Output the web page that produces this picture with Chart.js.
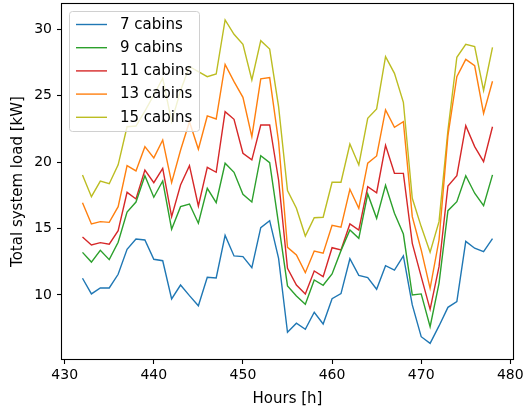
<!DOCTYPE html>
<html>
<head>
<meta charset="utf-8">
<script src="https://cdn.jsdelivr.net/npm/chart.js@4.4.1/dist/chart.umd.min.js"></script>
<style>
  html, body { margin: 0; padding: 0; background: #fff; }
  #wrap { width: 527px; height: 411px; }
</style>
</head>
<body>
<div id="wrap"><canvas id="c" width="527" height="411"></canvas></div>
<script>
const hours = [432, 433, 434, 435, 436, 437, 438, 439, 440, 441,
               442, 443, 444, 445, 446, 447, 448, 449, 450, 451,
               452, 453, 454, 455, 456, 457, 458, 459, 460, 461,
               462, 463, 464, 465, 466, 467, 468, 469, 470, 471,
               472, 473, 474, 475, 476, 477, 478];

const cabins7 = [11.26, 10.08, 10.53, 10.53, 11.56, 13.44, 14.22, 14.14, 12.69, 12.58,
                 9.70, 10.75, 9.95, 9.19, 11.33, 11.28, 14.49, 12.94, 12.89, 12.06,
                 15.07, 15.60, 12.76, 7.19, 7.87, 7.42, 8.70, 7.82, 9.72, 10.10,
                 12.73, 11.48, 11.31, 10.43, 12.21, 11.88, 12.94, 9.25, 6.86, 6.36,
                 7.67, 9.07, 9.50, 14.04, 13.52, 13.26, 14.24];

const cabins9 = [13.21, 12.48, 13.37, 12.66, 13.97, 16.25, 17.00, 18.98, 17.36, 18.58,
                 14.95, 16.65, 16.85, 15.40, 18.03, 16.95, 19.92, 19.24, 17.58, 17.00,
                 20.49, 19.96, 15.35, 10.68, 9.92, 9.30, 11.13, 10.73, 11.58, 13.34,
                 14.89, 14.27, 17.61, 15.77, 18.26, 16.15, 14.59, 10.00, 10.08, 7.61,
                 10.88, 16.35, 17.03, 18.98, 17.66, 16.73, 19.04];

const cabins11 = [14.37, 13.77, 13.94, 13.82, 14.84, 17.73, 17.23, 19.41, 18.46, 19.54,
                  15.90, 18.28, 19.74, 16.70, 19.61, 19.24, 23.80, 23.23, 20.67, 20.17,
                  22.80, 22.80, 18.66, 12.01, 10.75, 10.08, 11.81, 11.38, 13.56, 13.39,
                  15.35, 14.89, 18.15, 17.70, 21.27, 19.16, 19.16, 13.89, 11.38, 8.92,
                  12.13, 18.21, 18.98, 22.75, 21.17, 20.04, 22.67];

const cabins13 = [16.95, 15.35, 15.52, 15.47, 16.65, 19.74, 19.34, 21.17, 20.32, 21.67,
                  18.46, 20.90, 23.05, 20.97, 23.48, 23.25, 27.36, 26.06, 24.88, 21.92,
                  26.27, 26.37, 21.55, 13.59, 13.01, 11.68, 13.31, 13.14, 15.25, 15.10,
                  17.96, 16.53, 19.92, 20.47, 23.93, 22.63, 23.05, 15.90, 13.39, 10.50,
                  14.14, 22.00, 26.44, 27.74, 27.26, 23.67, 26.09];

const cabins15 = [19.04, 17.40, 18.58, 18.38, 19.80, 22.67, 22.72, 23.84, 25.06, 26.32,
                  23.05, 25.40, 27.19, 26.82, 26.44, 26.64, 30.71, 29.63, 28.87, 26.19,
                  29.15, 28.52, 24.18, 17.86, 16.53, 14.44, 15.82, 15.85, 18.49, 18.49,
                  21.37, 19.79, 23.30, 24.01, 27.95, 26.69, 24.51, 17.28, 15.15, 13.22,
                  15.52, 22.40, 27.90, 28.87, 28.70, 25.40, 28.65];

const seriesLabels = ['7 cabins', '9 cabins', '11 cabins', '13 cabins', '15 cabins'];
const seriesValues = [cabins7, cabins9, cabins11, cabins13, cabins15];
const seriesColors = ['#1f77b4', '#2ca02c', '#d62728', '#ff7f0e', '#bcbd22'];

const xTicks = [430, 440, 450, 460, 470, 480];
const yTicks = [10, 15, 20, 25, 30];

const FONT = 'DejaVu Sans';

const datasets = seriesValues.map((vals, i) => ({
  label: seriesLabels[i],
  data: hours.map((h, j) => ({ x: h, y: vals[j] })),
  borderColor: seriesColors[i],
  backgroundColor: seriesColors[i],
  borderWidth: 1.4,
  pointRadius: 0,
  tension: 0,
  fill: false
}));

const framePlugin = {
  id: 'frame',
  afterDatasetsDraw(chart) {
    const { ctx, chartArea: a } = chart;
    ctx.save();
    ctx.strokeStyle = '#000';
    ctx.lineWidth = 1.1;
    ctx.strokeRect(a.left - 0.5, a.top - 0.5, a.right - a.left + 1, a.bottom - a.top + 1);
    ctx.restore();
  }
};

const legendPlugin = {
  id: 'innerLegend',
  afterDraw(chart) {
    const { ctx } = chart;
    const bx = 69.5, by = 11.5, bw = 130, bh = 120, r = 3;
    ctx.save();
    ctx.beginPath();
    ctx.moveTo(bx + r, by);
    ctx.lineTo(bx + bw - r, by);
    ctx.quadraticCurveTo(bx + bw, by, bx + bw, by + r);
    ctx.lineTo(bx + bw, by + bh - r);
    ctx.quadraticCurveTo(bx + bw, by + bh, bx + bw - r, by + bh);
    ctx.lineTo(bx + r, by + bh);
    ctx.quadraticCurveTo(bx, by + bh, bx, by + bh - r);
    ctx.lineTo(bx, by + r);
    ctx.quadraticCurveTo(bx, by, bx + r, by);
    ctx.closePath();
    ctx.fillStyle = 'rgba(255,255,255,0.8)';
    ctx.fill();
    ctx.strokeStyle = '#d0d0d0';
    ctx.lineWidth = 1;
    ctx.stroke();
    ctx.font = '15px "' + FONT + '"';
    ctx.textBaseline = 'middle';
    ctx.textAlign = 'left';
    chart.data.datasets.forEach((ds, i) => {
      const y = 24.5 + i * 23.2;
      ctx.beginPath();
      ctx.strokeStyle = ds.borderColor;
      ctx.lineWidth = ds.borderWidth;
      ctx.moveTo(76, y);
      ctx.lineTo(107, y);
      ctx.stroke();
      ctx.fillStyle = '#000';
      ctx.fillText(ds.label, 120, y + 0.5);
    });
    ctx.restore();
  }
};

function noPad(s) {
  s.paddingTop = 0; s.paddingBottom = 0; s.paddingLeft = 0; s.paddingRight = 0;
}

new Chart(document.getElementById('c'), {
  type: 'line',
  data: { datasets },
  options: {
    responsive: false,
    animation: false,
    events: [],
    layout: { padding: { left: 0, right: 14, top: 4, bottom: 0 } },
    plugins: { legend: { display: false }, tooltip: { enabled: false } },
    scales: {
      x: {
        type: 'linear',
        min: 429.7,
        max: 480.3,
        afterBuildTicks: s => { s.ticks = xTicks.map(v => ({ value: v })); },
        afterFit: s => { s.height = 52; noPad(s); },
        grid: { drawOnChartArea: false, drawTicks: true, tickLength: 5, tickColor: '#000', tickWidth: 1.1 },
        border: { display: false },
        ticks: { color: '#000', font: { family: FONT, size: 14 }, padding: 3, maxRotation: 0, autoSkip: false },
        title: { display: true, text: 'Hours [h]', color: '#000', font: { family: FONT, size: 15 }, padding: { top: 0, bottom: 3 } }
      },
      y: {
        type: 'linear',
        min: 5.18,
        max: 31.91,
        afterBuildTicks: s => { s.ticks = yTicks.map(v => ({ value: v })); },
        afterFit: s => { s.width = 62; noPad(s); },
        grid: { drawOnChartArea: false, drawTicks: true, tickLength: 5, tickColor: '#000', tickWidth: 1.1 },
        border: { display: false },
        ticks: { color: '#000', font: { family: FONT, size: 14 }, padding: 5, autoSkip: false },
        title: { display: true, text: 'Total system load [kW]', color: '#000', font: { family: FONT, size: 15 }, padding: { top: 9, bottom: 0 } }
      }
    }
  },
  plugins: [framePlugin, legendPlugin]
});
</script>
</body>
</html>
